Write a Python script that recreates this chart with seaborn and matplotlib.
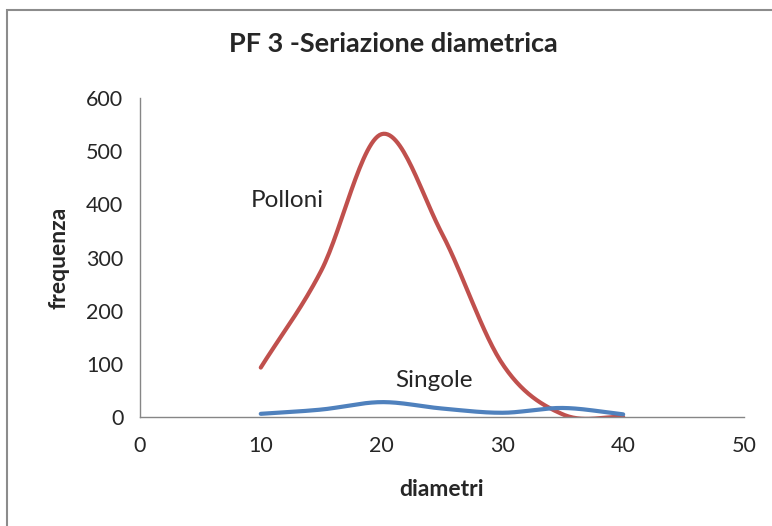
import numpy as np
import pandas as pd
import matplotlib
matplotlib.use("Agg")
import matplotlib.pyplot as plt
from matplotlib.patches import Rectangle
import seaborn as sns

# === Data ===
diametri = [10, 15, 20, 25, 30, 35, 40]
polloni = [93, 275, 532, 345, 100, 5, 0]
singole = [6, 14, 28, 16, 8, 17, 5]


def smooth(x, y, n=30):
    # Catmull-Rom path through the points, like Excel's "smoothed line"
    x = np.asarray(x, float)
    y = np.asarray(y, float)
    px = np.concatenate([[2 * x[0] - x[1]], x, [2 * x[-1] - x[-2]]])
    py = np.concatenate([[2 * y[0] - y[1]], y, [2 * y[-1] - y[-2]]])
    xs, ys = [], []
    t = np.linspace(0, 1, n, endpoint=False)
    for i in range(1, len(px) - 2):
        for p, out in ((px, xs), (py, ys)):
            p0, p1, p2, p3 = p[i - 1], p[i], p[i + 1], p[i + 2]
            out.extend(0.5 * (2 * p1 + (-p0 + p2) * t
                              + (2 * p0 - 5 * p1 + 4 * p2 - p3) * t ** 2
                              + (-p0 + 3 * p1 - 3 * p2 + p3) * t ** 3))
    xs.append(x[-1])
    ys.append(y[-1])
    return np.array(xs), np.array(ys)


sns.set_style("white")
plt.rcParams["font.family"] = ["Lato", "DejaVu Sans"]

fig = plt.figure(figsize=(7.72, 5.26), dpi=100)
ax = fig.add_axes([0.1813, 0.2072, 0.7824, 0.6065])

# outer chart frame (Excel style)
fig.patches.append(Rectangle((7 / 772, -0.1), 1.2, 1 - 10 / 526 + 0.1,
                             transform=fig.transFigure, fill=False,
                             edgecolor="#8c8c8c", linewidth=1.5))

red, blue = "#C0504D", "#4F81BD"
for vals, col in ((polloni, red), (singole, blue)):
    sx, sy = smooth(diametri, vals)
    df = pd.DataFrame({"diametri": sx, "frequenza": sy})
    sns.lineplot(data=df, x="diametri", y="frequenza", ax=ax, color=col,
                 linewidth=3, sort=False, estimator=None)

ax.set_xlim(0, 50)
ax.set_ylim(0, 600)
ax.set_xticks(range(0, 51, 10))
ax.set_yticks(range(0, 601, 100))
ax.tick_params(axis="both", direction="out", length=5, width=1,
               color="#868686", labelsize=15.5)
ax.tick_params(axis="x", pad=9)
ax.tick_params(axis="y", pad=7)
for s in ("top", "right"):
    ax.spines[s].set_visible(False)
for s in ("left", "bottom"):
    ax.spines[s].set_color("#868686")
    ax.spines[s].set_linewidth(1)

ax.set_xlabel("diametri", fontsize=16.5, fontweight="bold", labelpad=16)
ax.set_ylabel("frequenza", fontsize=16.5, fontweight="bold", labelpad=12)
fig.suptitle("PF 3 -Seriazione diametrica", x=0.509, y=0.94,
             fontsize=19.5, fontweight="bold")

ax.text(12.2, 408, "Polloni", fontsize=17.5, ha="center", va="center")
ax.text(24.3, 68, "Singole", fontsize=17.5, ha="center", va="center")

fig.savefig("out.png", dpi=100)
